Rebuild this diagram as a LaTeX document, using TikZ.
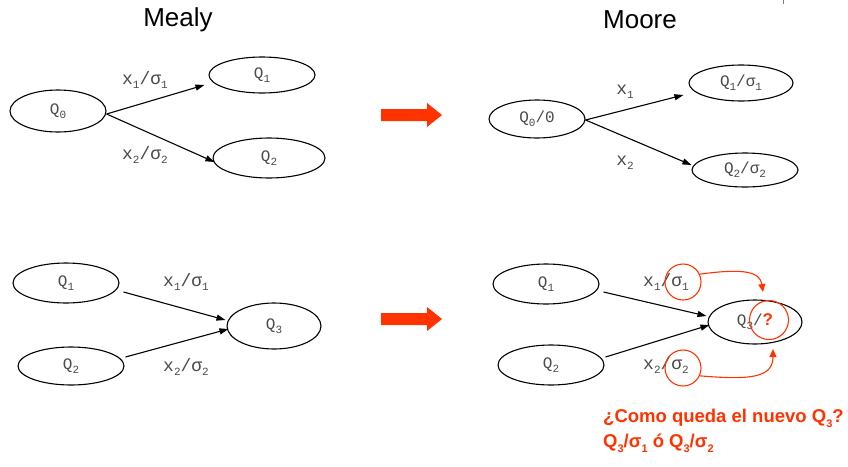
\documentclass[tikz,border=0pt]{standalone}
\usepackage{fontspec}
\setmainfont{Liberation Sans}
\setmonofont{Liberation Mono}
\usetikzlibrary{shapes.geometric,arrows.meta,calc}
\definecolor{hot}{HTML}{FF3300}
\definecolor{ink}{HTML}{4A4A4A}
% lowered small index used in state and transition labels
\newcommand{\lo}[1]{\raisebox{-0.45ex}{\fontsize{11}{11}\selectfont #1}}
\begin{document}
\begin{tikzpicture}[x=1pt,y=-1pt,
  state/.style={ellipse,draw,line width=1.1pt,inner sep=0pt,text=ink,
    font=\ttfamily\fontsize{16}{16}\selectfont},
  trans/.style={-{Triangle[length=9pt,width=6pt]},line width=1.1pt},
  lbl/.style={text=ink,font=\ttfamily\fontsize{18}{18}\selectfont,inner sep=0pt},
  title/.style={font=\fontsize{26}{26}\selectfont},
  ring/.style={circle,draw=hot,line width=1.1pt,minimum size=36pt,inner sep=0pt},
  hint/.style={draw=hot,line width=1.1pt,-{Triangle[length=8pt,width=7pt]},hot},
  bigarrow/.style={fill=hot,draw=none}]
\useasboundingbox (0,0) rectangle (848,466);

% small tick at the top border
\draw[gray,line width=1pt] (783,0) -- (783,4);

\node[title] (tmealy) at (178,20) {Mealy};
\node[title] (tmoore) at (640,20) {Moore};

% ---- Mealy, fan-out
\node[state,minimum width=96pt,minimum height=42pt] (a0) at (58,111) {Q\lo{0}};
\node[state,minimum width=106pt,minimum height=36pt] (a1) at (262,75) {Q\lo{1}};
\node[state,minimum width=112pt,minimum height=40pt] (a2) at (269,158) {Q\lo{2}};
\draw[trans] ($(a0.east)+(0,3)$) -- ($(a1.west)+(-4,10)$);
\draw[trans] ($(a0.east)+(0,3)$) -- ($(a2.west)+(2,4)$);
\node[lbl] (la1) at (145,80) {x\lo{1}/σ\lo{1}};
\node[lbl] (la2) at (145,155) {x\lo{2}/σ\lo{2}};

% ---- Moore, fan-out
\node[state,minimum width=96pt,minimum height=38pt] (b0) at (537,119) {Q\lo{0}/0};
\node[state,minimum width=104pt,minimum height=36pt] (b1) at (741,83) {Q\lo{1}/σ\lo{1}};
\node[state,minimum width=106pt,minimum height=34pt] (b2) at (745,170) {Q\lo{2}/σ\lo{2}};
\draw[trans] ($(b0.east)+(0,1)$) -- ($(b1.west)+(-5,12)$);
\draw[trans] ($(b0.east)+(0,1)$) -- ($(b2.west)+(0,-5)$);
\node[lbl] (lb1) at (625,92) {x\lo{1}};
\node[lbl] (lb2) at (625,163) {x\lo{2}};

% ---- Mealy, fan-in
\node[state,minimum width=106pt,minimum height=40pt] (c1) at (66,283) {Q\lo{1}};
\node[state,minimum width=106pt,minimum height=38pt] (c2) at (71,366) {Q\lo{2}};
\node[state,minimum width=94pt,minimum height=46pt] (c3) at (274,326) {Q\lo{3}};
\draw[trans] ($(c1.east)+(4,9)$) -- ($(c3.west)+(-1,-6)$);
\draw[trans] ($(c2.east)+(1,-9)$) -- ($(c3.west)+(2,3)$);
\node[lbl] (lc1) at (186,282) {x\lo{1}/σ\lo{1}};
\node[lbl] (lc2) at (186,367) {x\lo{2}/σ\lo{2}};

% ---- Moore, fan-in
\node[state,minimum width=94pt,minimum height=44pt] (d3) at (755,322)
  {Q\lo{3}/\textcolor{hot}{\rmfamily\bfseries\fontsize{17}{17}\selectfont ?}};
\node[state,minimum width=106pt,minimum height=40pt] (d1) at (546,284) {Q\lo{1}};
\node[state,minimum width=106pt,minimum height=40pt] (d2) at (551,365) {Q\lo{2}};
\draw[trans] ($(d1.east)+(4,8)$) -- ($(d3.west)+(-1,-6)$);
\draw[trans] ($(d2.east)+(1,-8)$) -- ($(d3.west)+(2,3)$);
\node[lbl] (ld1) at (666,282) {x\lo{1}/σ\lo{1}};
\node[lbl] (ld2) at (666,365) {x\lo{2}/σ\lo{2}};

% highlighted outputs and the open question
\node[ring] (r1) at (683,282) {};
\node[ring] (r2) at (683,368) {};
\node[ring,minimum size=39pt] (rq) at (769,320) {};
\coordinate (t1) at (763,292);
\coordinate (t2) at (773,349);
\draw[hint] (r1.25) .. controls (745,268) and (760,272) .. (t1);
\draw[hint] (r2.-25) .. controls (750,380) and (773,378) .. (t2);

% conversion arrows
\fill[bigarrow] (381,109) -- (427,109) -- (427,103) -- (442,115) -- (427,127) -- (427,121) -- (381,121) -- cycle;
\fill[bigarrow] (381,313) -- (427,313) -- (427,307) -- (442,319) -- (427,331) -- (427,325) -- (381,325) -- cycle;

\node[anchor=north west,inner sep=0pt,text=hot,align=left,
  font=\bfseries\fontsize{18.5}{25}\selectfont] (q) at (603,409)
  {¿Como queda el nuevo Q\lo{3}?\\Q\lo{3}/σ\lo{1} ó Q\lo{3}/σ\lo{2}};
\end{tikzpicture}
\end{document}
